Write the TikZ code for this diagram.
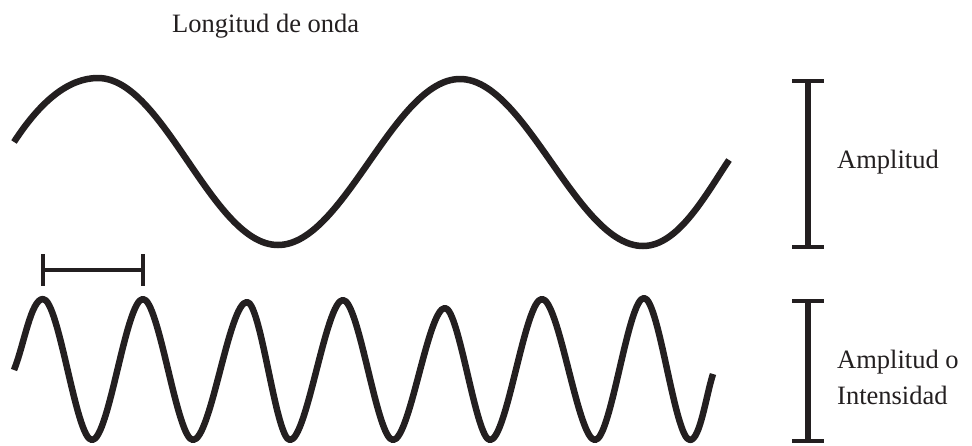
\documentclass[tikz,border=0pt]{standalone}
\usepackage{fontspec}
\setmainfont{Liberation Serif}
\definecolor{ink}{HTML}{231F20}
\begin{document}
\begin{tikzpicture}[x=1pt,y=-1pt,
  wave/.style={draw=ink,line width=6.5pt,line join=round},
  barline/.style={draw=ink,line width=5.5pt},
  capline/.style={draw=ink,line width=4.5pt},
  lbl/.style={inner sep=0pt,anchor=base west,text=ink,font=\fontsize{26.5}{36}\selectfont}]
\useasboundingbox (0,0) rectangle (972,445);
% top wave
\draw[wave] (14,142) .. controls (40,102) and (68,78) .. (98,78)
  .. controls (164,78) and (212,245) .. (278,245)
  .. controls (344,245) and (394,79) .. (460,79)
  .. controls (526,79) and (577,246) .. (643,246)
  .. controls (678,246) and (705,196) .. (729,160);
% bottom wave
\draw[wave] (14,370) .. controls (24,345) and (31,299) .. (43,299)
  .. controls (59,299) and (76,440) .. (92,440)
  .. controls (109,440) and (126,299) .. (143,299)
  .. controls (159,299) and (177,440) .. (193,440)
  .. controls (211,440) and (229,302) .. (247,302)
  .. controls (261,302) and (276,440) .. (290,440)
  .. controls (307,440) and (326,300) .. (343,300)
  .. controls (359,300) and (377,440) .. (393,440)
  .. controls (410,440) and (428,308) .. (445,308)
  .. controls (459,308) and (476,440) .. (490,440)
  .. controls (507,440) and (525,299) .. (542,299)
  .. controls (559,299) and (578,440) .. (595,440)
  .. controls (611,440) and (628,298) .. (644,298)
  .. controls (659,298) and (675,440) .. (690,440)
  .. controls (700,440) and (706,396) .. (713,374);
% wavelength bar
\draw[capline] (43,270) -- (143,270);
\draw[capline] (43,254) -- (43,286);
\draw[capline] (143,254) -- (143,286);
% amplitude bar top
\draw[barline] (808,81) -- (808,247);
\draw[capline] (792,81) -- (824,81);
\draw[capline] (792,247) -- (824,247);
% amplitude bar bottom
\draw[barline] (808,301) -- (808,441);
\draw[capline] (792,301) -- (824,301);
\draw[capline] (792,441) -- (824,441);
% labels
\node[lbl] (lon) at (172,32) {Longitud de onda};
\node[lbl] (amp) at (837,168) {Amplitud};
\node[lbl] (amp2) at (837,368) {Amplitud o};
\node[lbl] (int) at (837,404) {Intensidad};
\end{tikzpicture}
\end{document}
